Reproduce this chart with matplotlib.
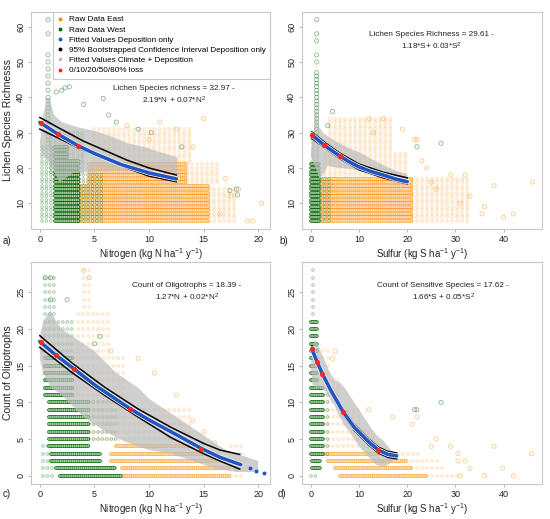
import numpy as np
import matplotlib
matplotlib.use("Agg")
import matplotlib.pyplot as plt
from matplotlib.lines import Line2D

plt.rcParams['font.family'] = ['Liberation Sans', 'DejaVu Sans']
plt.rcParams['mathtext.fontset'] = 'custom'
plt.rcParams['mathtext.rm'] = 'Liberation Sans'
plt.rcParams['mathtext.it'] = 'Liberation Sans:italic'
plt.rcParams['lines.scale_dashes'] = False

ORANGE = '#ff8c00'
GREEN = '#006400'
BLUE = '#2356c2'
GRAY = '#bdbdbd'
RED = '#ff2626'

# ---------------- panel a: richness vs nitrogen ----------------
# row blocks: (y_from, y_to, x_from, x_to)
a_west_dense = [(5, 22, 1.4, 3.6), (23, 26, 1.4, 2.6)]
a_west_light = [(5, 26, 0.2, 1.3), (5, 18, 3.6, 6.0), (19, 30, 1.0, 4.0)]
a_east_dense = [(5, 15, 3.5, 15.5), (16, 21, 4.5, 13.5)]
a_east_light = [(5, 14, 15.5, 18.0), (16, 21, 13.5, 16.5), (22, 31, 5.0, 14.0)]
a_west_pts_x = [0.75] * 22 + [2.0, 2.3, 2.7, 1.5, 5.8, 6.3, 4.0, 7.0, 9.0, 10.2, 13.0, 17.4, 18.1, 18.0]
a_west_pts_y = list(range(27, 41)) + [42, 44, 46, 48, 50, 52, 58, 62] + \
               [42, 42.7, 43, 41.5, 39.7, 35, 38, 33, 31, 30, 26, 13.6, 12.4, 14]
a_east_pts_x = [15.0, 11.0, 8.0, 12.5, 10.0, 14.0, 17.0, 18.2, 17.5, 20.3, 19.5, 19.0, 16.5]
a_east_pts_y = [34, 33, 32, 31, 28, 26, 17, 14, 12, 10, 5, 5, 7]
a_gray_x = [0.0, 0.3, 0.6, 0.8, 1.0, 1.3, 2.0, 3.5, 5.0, 6.5, 8.0, 9.5, 11.0, 12.6,
            12.6, 11.0, 9.0, 7.0, 5.0, 3.0, 1.8, 1.3, 0.8, 0.2]
a_gray_y = [27.0, 35.0, 38.5, 40.0, 38.5, 35.0, 33.0, 31.5, 30.5, 29.0, 27.0, 26.0, 24.5, 23.0,
            18.5, 19.0, 19.5, 19.5, 19.0, 18.5, 16.0, 19.0, 22.0, 24.0]
a_fit_x = [0.0, 1.7, 3.5, 5.0, 7.5, 10.0, 12.5]
a_fit_y = [32.9, 29.5, 26.3, 24.1, 20.9, 18.6, 16.9]
a_ci_x = [0.0, 2.0, 4.0, 6.0, 8.0, 10.0, 12.5]
a_ci_hi = [34.3, 30.9, 27.6, 24.9, 22.2, 20.0, 18.0]
a_ci_lo = [31.0, 28.0, 25.0, 22.5, 19.9, 17.7, 16.1]
a_loss_x = [0.1, 1.7, 3.5]
a_loss_y = [32.8, 29.5, 26.3]

# ---------------- panel b: richness vs sulfur ----------------
b_west_dense = [(5, 21, 0.0, 1.8)]
b_west_light = [(5, 17, 1.8, 4.0), (22, 28, 0.5, 1.8)]
b_east_dense = [(5, 17, 2.0, 21.0)]
b_east_light = [(5, 17, 21.0, 33.0), (18, 24, 3.0, 20.0), (25, 34, 4.0, 17.0)]
b_west_pts_x = [1.2] * 24 + [27.0, 22.0, 4.5, 3.5]
b_west_pts_y = list(range(29, 48)) + [50, 52, 56, 58, 62] + [27, 26, 36, 32]
b_east_pts_x = [46, 42, 40, 38, 36, 35.5, 33, 32, 29, 31, 22, 21.5, 13, 15, 12, 19, 25, 26, 24, 23]
b_east_pts_y = [16, 7, 6, 15, 9, 7, 12, 18, 18, 10, 28, 28, 30, 34, 34, 31, 16, 14, 20, 22]
b_gray_x = [0.0, 0.5, 0.9, 1.1, 1.3, 1.6, 2.5, 4.0, 6.0, 8.0, 10.0, 12.0, 14.0, 16.0, 18.0, 20.0,
            20.0, 16.0, 12.0, 9.0, 6.0, 3.5, 2.5, 1.8, 1.0, 0.3]
b_gray_y = [24.0, 30.0, 34.0, 40.0, 34.0, 32.0, 30.0, 28.5, 27.0, 25.5, 24.5, 23.0, 21.5, 20.2, 19.0, 18.3,
            16.5, 17.5, 18.5, 19.5, 20.0, 20.5, 18.0, 17.0, 20.0, 22.0]
b_fit_x = [0.2, 2.8, 6.0, 8.0, 10.0, 12.5, 15.0, 17.5, 20.0]
b_fit_y = [29.4, 26.4, 23.4, 21.7, 20.3, 19.0, 18.0, 16.9, 16.1]
b_ci_x = [0.2, 3.0, 6.0, 10.0, 15.0, 20.0]
b_ci_hi = [30.2, 27.1, 24.2, 21.1, 18.8, 17.2]
b_ci_lo = [28.4, 25.6, 22.7, 19.5, 17.2, 15.5]
b_loss_x = [0.2, 2.8, 6.0]
b_loss_y = [29.4, 26.4, 23.4]

# ---------------- panel c: oligotrophs vs nitrogen ----------------
c_west_dense = [(0, 0, 1.8, 7.5), (1, 1, 1.5, 7.0), (2, 3, 1.0, 5.5), (4, 10, 0.8, 4.5), (11, 16, 0.5, 3.0)]
c_west_light = [(0, 4, 0.3, 1.2), (5, 10, 4.5, 7.0), (17, 21, 0.5, 3.0), (22, 27, 0.5, 1.5)]
c_east_dense = [(0, 1, 7.5, 17.5), (2, 3, 6.5, 16.5), (4, 4, 7.0, 15.0)]
c_east_light = [(0, 4, 17.5, 18.5), (5, 9, 4.5, 14.0), (10, 16, 3.5, 8.0), (17, 22, 3.5, 6.5), (23, 28, 4.0, 5.0)]
c_west_pts_x = [0.5, 1.0, 2.5, 1.0, 5.5, 5.0, 18.0]
c_west_pts_y = [27, 27, 24, 24, 19, 18, 1]
c_east_pts_x = [10.5, 12.5, 9.0, 4.0, 4.5, 6.5, 14.0, 15.0, 16.0]
c_east_pts_y = [14, 11, 16, 28, 27, 17, 7.5, 6, 4.5]
c_gray_x = [0.0, 0.3, 0.7, 1.0, 1.5, 2.0, 3.0, 4.0, 5.0, 6.0, 7.0, 8.0, 9.0, 10.0, 11.0, 12.0, 13.0, 14.0,
            15.0, 16.0, 17.0, 18.0, 19.0, 20.0, 20.0, 18.0, 16.0, 14.0, 12.0, 10.0, 8.0, 6.0, 4.0, 3.0,
            2.0, 1.0, 0.3, 0.0]
c_gray_y = [19.0, 21.0, 22.0, 22.5, 21.0, 20.0, 19.0, 18.0, 17.0, 15.5, 14.0, 13.0, 12.0, 10.5, 9.5, 8.5,
            7.5, 6.5, 5.5, 4.5, 3.5, 3.0, 2.5, 2.0, 0.5, 0.5, 1.0, 2.0, 3.0, 3.5, 4.5, 6.0, 8.0, 9.5,
            11.0, 12.0, 14.0, 16.0]
c_fit_x = [0.0, 1.5, 3.1, 5.0, 8.3, 10.0, 12.5, 14.8, 16.5, 18.4]
c_fit_y = [18.3, 16.4, 14.6, 12.4, 9.1, 7.6, 5.6, 3.7, 2.5, 1.5]
c_fit_tail_x = [19.2, 19.8, 20.5]
c_fit_tail_y = [1.0, 0.7, 0.4]
c_ci_x = [0.0, 3.0, 6.0, 9.0, 12.0, 15.0, 16.5, 18.3]
c_ci_hi = [19.1, 15.3, 12.0, 9.1, 6.6, 4.4, 3.5, 2.9]
c_ci_lo = [17.5, 14.0, 10.9, 8.0, 5.2, 3.0, 2.0, 0.9]
c_loss_x = [0.1, 1.5, 3.1, 8.3, 14.8]
c_loss_y = [18.3, 16.4, 14.6, 9.1, 3.7]

# ---------------- panel d: sensitive species vs sulfur ----------------
d_west_dense = [(1, 2, 0.3, 2.0), (3, 12, 0.0, 2.5), (13, 21, 0.0, 1.5)]
d_west_light = [(0, 0, 0.0, 1.5), (3, 11, 2.5, 3.5), (22, 28, 0.5, 1.3)]
d_east_dense = [(0, 0, 6.0, 24.0), (1, 1, 5.0, 21.0), (2, 2, 3.5, 20.0), (3, 3, 2.5, 15.0)]
d_east_light = [(0, 0, 24.0, 31.0), (1, 1, 21.0, 28.0), (2, 2, 20.0, 26.5), (3, 3, 15.0, 23.0),
                (4, 6, 2.5, 14.0), (7, 9, 2.5, 10.0), (10, 13, 2.5, 6.0), (14, 17, 2.5, 4.5)]
d_west_pts_x = [27.0, 22.0, 21.5]
d_west_pts_y = [10, 9, 9]
d_east_pts_x = [45.8, 42, 38, 36, 39.8, 32, 33, 30.5, 30.5, 29, 26, 22, 17, 12, 21, 25, 31, 5, 4.5]
d_east_pts_y = [3, 0, 4, 0, 1, 2, 1, 2, 3, 4, 5, 8, 8, 9, 7, 4, 0, 17, 16]
d_gray_x = [0.0, 0.3, 0.8, 1.5, 2.0, 3.0, 4.0, 5.0, 6.0, 7.0, 8.0, 9.0, 10.0, 11.0, 12.0, 13.0, 14.0, 15.0,
            16.0, 17.0, 18.0, 17.0, 16.0, 15.0, 13.5, 12.0, 10.0, 9.0, 8.0, 7.0, 6.0, 5.0, 4.0, 3.0, 2.0,
            1.0, 0.3]
d_gray_y = [15.0, 17.5, 18.5, 18.0, 17.0, 15.5, 14.0, 13.0, 12.7, 12.0, 11.0, 10.0, 9.0, 8.0, 7.0, 6.0, 5.3,
            4.8, 4.0, 3.2, 3.0, 2.0, 1.5, 1.2, 1.5, 2.5, 4.0, 5.0, 6.0, 6.8, 8.0, 9.5, 10.5, 11.5, 12.0,
            12.0, 12.5]
d_fit_x = [0.2, 1.3, 2.4, 4.0, 6.7, 9.0, 12.0, 14.0, 16.0, 17.8]
d_fit_y = [17.3, 15.5, 13.9, 11.8, 8.7, 6.6, 4.6, 3.5, 2.9, 2.7]
d_ci_x = d_fit_x
d_ci_hi = [17.7, 15.9, 14.3, 12.2, 9.1, 7.0, 5.0, 3.9, 3.3, 3.1]
d_ci_lo = [16.9, 15.1, 13.5, 11.4, 8.3, 6.2, 4.2, 3.1, 2.5, 2.3]
d_loss_x = [0.2, 1.3, 2.4, 6.7, 14.0]
d_loss_y = [17.3, 15.5, 13.9, 8.7, 3.5]

equations = [
    'Lichen Species richness = 32.97 -\n2.19*N + 0.07*N$^2$',
    'Lichen Species Richness = 29.61 -\n1.18*S+ 0.03*S$^2$',
    'Count of Oligotrophs = 18.39 -\n1.27*N + 0.02*N$^2$',
    'Count of Sensitive Species = 17.62 -\n1.66*S + 0.05*S$^2$',
]
legend_labels = ['Raw Data East', 'Raw Data West', 'Fitted Values Deposition only',
                 '95% Bootstrapped Confidence Interval Deposition only',
                 'Fitted Values Climate + Deposition', '0/10/20/50/80% loss']


def draw_rows(ax, blocks, color, alpha, gap):
    # each row of raw values drawn as a chain of open circles
    for y0, y1, x0, x1 in blocks:
        for y in range(y0, y1 + 1):
            ax.plot([x0, x1], [y, y], color=color, lw=2.7, alpha=alpha,
                    ls=(0, (0.01, gap)), dash_capstyle='round', zorder=2)
            ax.plot([x0, x1], [y, y], color='white', lw=1.3, alpha=0.8,
                    ls=(0, (0.01, gap)), dash_capstyle='round', zorder=2)


def draw_pts(ax, xs, ys, color):
    ax.scatter(xs, ys, s=9, facecolors='none', edgecolors=color, linewidths=0.6,
               alpha=0.45, zorder=2)


def panel(ax, east_d, east_l, west_d, west_l, ex, ey, wx, wy, gx, gy,
          fx, fy, cx, chi, clo, lx, ly):
    draw_rows(ax, east_l, ORANGE, 0.25, 3.6)
    draw_rows(ax, east_d, ORANGE, 0.72, 1.5)
    draw_pts(ax, ex, ey, ORANGE)
    draw_rows(ax, west_l, GREEN, 0.32, 3.2)
    draw_rows(ax, west_d, GREEN, 0.9, 1.4)
    draw_pts(ax, wx, wy, GREEN)
    ax.fill(gx, gy, color=GRAY, alpha=0.72, lw=0, zorder=3)
    ax.plot(cx, chi, color='black', lw=1.1, zorder=4)
    ax.plot(cx, clo, color='black', lw=1.1, zorder=4)
    ax.plot(fx, fy, color='white', lw=3.6, zorder=5, solid_capstyle='round')
    ax.plot(fx, fy, color=BLUE, lw=2.6, zorder=6, solid_capstyle='round')
    ax.scatter(lx, ly, s=14, color=RED, zorder=7, lw=0)


def style(ax, xlim, ylim, xticks, yticks):
    ax.set_xlim(*xlim)
    ax.set_ylim(*ylim)
    ax.set_xticks(xticks)
    ax.set_yticks(yticks)
    for s in ax.spines.values():
        s.set_color('#c8c8c8')
        s.set_linewidth(0.8)
    ax.tick_params(length=2.2, width=0.5, color='#999999', labelsize=6.5, pad=2,
                   labelcolor='#222222')
    ax.tick_params(axis='y', labelrotation=90)
    for lab in ax.get_yticklabels():
        lab.set_va('center')


fig = plt.figure(figsize=(5.5, 5.19), dpi=100)
W, H = 550.0, 519.0
ax_a = fig.add_axes([31 / W, (H - 229) / H, 239.3 / W, 217.4 / H])
ax_b = fig.add_axes([302 / W, (H - 229) / H, 239.5 / W, 217.4 / H])
ax_c = fig.add_axes([31 / W, (H - 483.9) / H, 239.3 / W, 221.7 / H])
ax_d = fig.add_axes([302 / W, (H - 483.9) / H, 239.5 / W, 221.7 / H])

panel(ax_a, a_east_dense, a_east_light, a_west_dense, a_west_light,
      a_east_pts_x, a_east_pts_y, a_west_pts_x, a_west_pts_y, a_gray_x, a_gray_y,
      a_fit_x, a_fit_y, a_ci_x, a_ci_hi, a_ci_lo, a_loss_x, a_loss_y)
panel(ax_b, b_east_dense, b_east_light, b_west_dense, b_west_light,
      b_east_pts_x, b_east_pts_y, b_west_pts_x, b_west_pts_y, b_gray_x, b_gray_y,
      b_fit_x, b_fit_y, b_ci_x, b_ci_hi, b_ci_lo, b_loss_x, b_loss_y)
panel(ax_c, c_east_dense, c_east_light, c_west_dense, c_west_light,
      c_east_pts_x, c_east_pts_y, c_west_pts_x, c_west_pts_y, c_gray_x, c_gray_y,
      c_fit_x, c_fit_y, c_ci_x, c_ci_hi, c_ci_lo, c_loss_x, c_loss_y)
ax_c.scatter(c_fit_tail_x, c_fit_tail_y, s=8, color=BLUE, lw=0, zorder=6)
panel(ax_d, d_east_dense, d_east_light, d_west_dense, d_west_light,
      d_east_pts_x, d_east_pts_y, d_west_pts_x, d_west_pts_y, d_gray_x, d_gray_y,
      d_fit_x, d_fit_y, d_ci_x, d_ci_hi, d_ci_lo, d_loss_x, d_loss_y)

style(ax_a, (-0.81, 21.1), (2.72, 64.28), [0, 5, 10, 15, 20], range(10, 61, 10))
style(ax_b, (-1.84, 47.84), (2.72, 64.28), range(0, 41, 10), range(10, 61, 10))
style(ax_c, (-0.81, 21.1), (-1.12, 29.12), [0, 5, 10, 15, 20], range(0, 26, 5))
style(ax_d, (-1.84, 47.84), (-1.12, 29.12), range(0, 41, 10), range(0, 26, 5))

n_label = 'Nitrogen (kg N ha$^{-1}$ y$^{-1}$)'
s_label = 'Sulfur (kg S ha$^{-1}$ y$^{-1}$)'
for ax, xl in [(ax_a, n_label), (ax_b, s_label), (ax_c, n_label), (ax_d, s_label)]:
    ax.set_xlabel(xl, fontsize=6.9, labelpad=1.5, color='#222222')
ax_a.set_ylabel('Lichen Species Richnesss', fontsize=7.5, labelpad=2, color='#222222')
ax_c.set_ylabel('Count of Oligotrophs', fontsize=7.5, labelpad=2, color='#222222')

eq_pos = [(ax_a, 0.597, 0.615), (ax_b, 0.54, 0.862), (ax_c, 0.65, 0.862), (ax_d, 0.59, 0.862)]
for (ax, ex_, ey_), txt in zip(eq_pos, equations):
    ax.text(ex_, ey_, txt, transform=ax.transAxes, ha='center', va='center',
            fontsize=5.9, linespacing=1.35, color='#222222', zorder=8)

handle_colors = [ORANGE, GREEN, BLUE, 'black', GRAY, RED]
handles = [Line2D([], [], ls='none', marker='o', ms=2.8, mec='none', mfc=c) for c in handle_colors]
leg = ax_a.legend(handles, legend_labels, loc='upper right', fontsize=5.9, frameon=True,
                  fancybox=False, borderaxespad=0, handlelength=0.8, handletextpad=0.7,
                  labelspacing=0.3, borderpad=0.5, framealpha=1)
leg.get_frame().set_edgecolor('#c8c8c8')
leg.get_frame().set_linewidth(0.8)
leg.set_zorder(10)

for lab, x, y in [('a)', 3, 241), ('b)', 279, 241), ('c)', 3, 494), ('d)', 278, 494)]:
    fig.text(x / W, 1 - y / H, lab, fontsize=7, ha='left', va='center', color='#222222')

fig.savefig('out.png', dpi=100)
